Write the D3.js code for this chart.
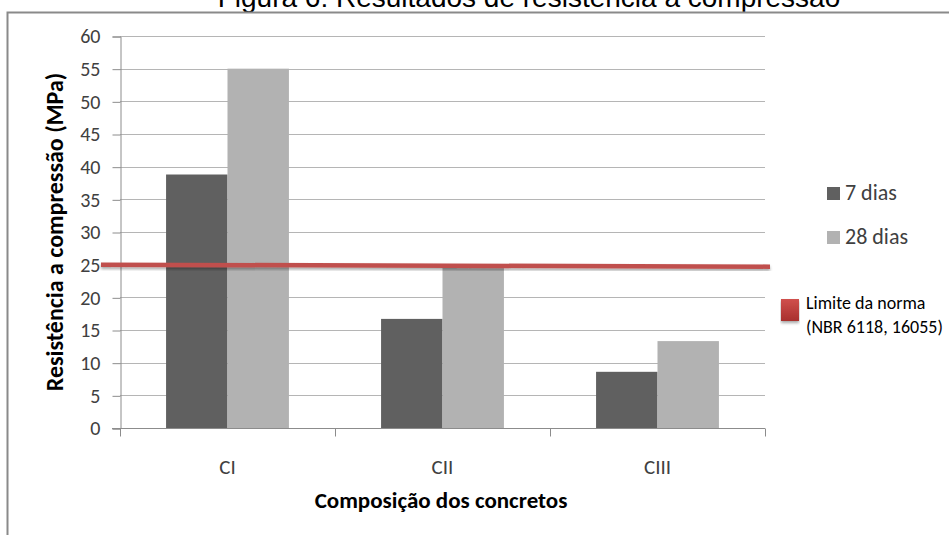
<!DOCTYPE html>
<html>
<head>
<meta charset="utf-8">
<script src="https://cdn.jsdelivr.net/npm/d3@7"></script>
<style>
  body { margin: 0; background: #fff; }
  svg { display: block; }
</style>
</head>
<body>
<div id="viz"></div>
<script>
var categories = ['CI', 'CII', 'CIII'];
var seriesNames = ['7 dias', '28 dias'];
var dias7 = [38.8, 16.7, 8.6];
var dias28 = [55, 24.8, 13.3];
var limite = 24.9;
var yTicks = [0, 5, 10, 15, 20, 25, 30, 35, 40, 45, 50, 55, 60];

var width = 949,
    height = 535,
    plotLeft = 120,
    plotRight = 765,
    plotTop = 36,
    plotBottom = 428,
    colors = ['#606060', '#b2b2b2'],
    font = 'Carlito, Lato, sans-serif';

var svg = d3.select('#viz').append('svg')
    .attr('width', width)
    .attr('height', height);

var defs = svg.append('defs');

// title (cut off at the top in the original)
svg.append('text')
    .attr('x', 529)
    .attr('y', 7)
    .attr('text-anchor', 'middle')
    .style('font-family', 'Liberation Sans, Arial, sans-serif')
    .style('font-size', '28px')
    .style('fill', '#000')
    .text('Figura 6: Resultados de resistência à compressão');

// outer frame
svg.append('path')
    .attr('d', 'M7.5,' + height + 'V12.5H' + width)
    .attr('fill', 'none')
    .attr('stroke', '#8a8a8a')
    .attr('stroke-width', 2);

var yScale = d3.scaleLinear()
    .domain([0, 60])
    .range([plotBottom, plotTop]);

var xScale = d3.scaleBand()
    .domain(categories)
    .range([plotLeft, plotRight]);

var xInner = d3.scaleBand()
    .domain(seriesNames)
    .range([0, xScale.bandwidth()])
    .paddingInner(0)
    .paddingOuter(0.75);

// gridlines
svg.append('g')
    .selectAll('line').data(yTicks.filter(function(d){ return d > 0; }))
    .enter().append('line')
    .attr('x1', plotLeft)
    .attr('x2', plotRight)
    .attr('y1', function(d){ return Math.round(yScale(d)) + 0.5; })
    .attr('y2', function(d){ return Math.round(yScale(d)) + 0.5; })
    .attr('stroke', '#b5b5b5')
    .attr('stroke-width', 1);

// y axis
var yAxis = svg.append('g')
    .attr('transform', 'translate(' + (plotLeft + 0.5) + ',0.5)')
    .call(d3.axisLeft(yScale).tickValues(yTicks).tickSize(8).tickPadding(12));
yAxis.select('.domain').attr('stroke', '#8c8c8c');
yAxis.selectAll('.tick line').attr('stroke', '#8c8c8c');
yAxis.selectAll('text')
    .style('font-family', font)
    .style('font-size', '20px')
    .style('fill', '#404040');

// bars
var groups = svg.append('g')
    .selectAll('g').data(categories)
    .enter().append('g')
    .attr('transform', function(d){ return 'translate(' + xScale(d) + ',0)'; });

groups.selectAll('rect')
    .data(function(d, i){
        return [{s: seriesNames[0], v: dias7[i], c: colors[0]},
                {s: seriesNames[1], v: dias28[i], c: colors[1]}];
    })
    .enter().append('rect')
    .attr('x', function(d){ return xInner(d.s); })
    .attr('width', xInner.bandwidth())
    .attr('y', function(d){ return yScale(d.v); })
    .attr('height', function(d){ return plotBottom - yScale(d.v); })
    .attr('fill', function(d){ return d.c; });

// x axis
var xAxis = svg.append('g')
    .attr('transform', 'translate(0,' + (plotBottom + 0.5) + ')');
xAxis.append('line')
    .attr('x1', plotLeft - 8)
    .attr('x2', plotRight)
    .attr('stroke', '#8c8c8c');
xAxis.selectAll('.tk')
    .data(categories.map(function(d){ return xScale(d); }).concat([plotRight]))
    .enter().append('line')
    .attr('x1', function(d){ return Math.round(d) + 0.5; })
    .attr('x2', function(d){ return Math.round(d) + 0.5; })
    .attr('y1', 0)
    .attr('y2', 8)
    .attr('stroke', '#8c8c8c');
xAxis.selectAll('text')
    .data(categories)
    .enter().append('text')
    .attr('x', function(d){ return xScale(d) + xScale.bandwidth() / 2; })
    .attr('y', 45)
    .attr('text-anchor', 'middle')
    .style('font-family', font)
    .style('font-size', '21px')
    .style('fill', '#404040')
    .text(function(d){ return d; });

// limit line (drawn shape, with a soft shadow)
var f = defs.append('filter').attr('id', 'sh').attr('x', '-5%').attr('y', '-200%')
    .attr('width', '110%').attr('height', '500%');
f.append('feDropShadow').attr('dx', 0).attr('dy', 2).attr('stdDeviation', 1.5)
    .attr('flood-color', '#000').attr('flood-opacity', 0.35);

svg.append('line')
    .attr('x1', 101)
    .attr('x2', 770)
    .attr('y1', yScale(limite + 0.1))
    .attr('y2', yScale(limite - 0.2))
    .attr('stroke', '#c0504d')
    .attr('stroke-width', 4.5)
    .attr('filter', 'url(#sh)');

// axis titles
svg.append('text')
    .attr('transform', 'translate(63,232) rotate(-90)')
    .attr('text-anchor', 'middle')
    .style('font-family', font)
    .style('font-size', '24px')
    .style('font-weight', 'bold')
    .style('fill', '#000')
    .text('Resistência a compressão (MPa)');

svg.append('text')
    .attr('x', 441)
    .attr('y', 508)
    .attr('text-anchor', 'middle')
    .style('font-family', font)
    .style('font-size', '23px')
    .style('font-weight', 'bold')
    .style('fill', '#000')
    .text('Composição dos concretos');

// legend
var legend = svg.append('g');
seriesNames.forEach(function(name, i){
    var ly = 187 + i * 44;
    legend.append('rect')
        .attr('x', 827).attr('y', ly)
        .attr('width', 13).attr('height', 13)
        .attr('fill', colors[i]);
    legend.append('text')
        .attr('x', 845).attr('y', ly + 13)
        .style('font-family', font)
        .style('font-size', '22px')
        .style('fill', '#404040')
        .text(name);
});

var lg = defs.append('linearGradient').attr('id', 'rg')
    .attr('x1', 0).attr('y1', 0).attr('x2', 0).attr('y2', 1);
lg.append('stop').attr('offset', 0).attr('stop-color', '#d0504d');
lg.append('stop').attr('offset', 1).attr('stop-color', '#a8302e');

legend.append('rect')
    .attr('x', 781).attr('y', 299)
    .attr('width', 18).attr('height', 22)
    .attr('fill', 'url(#rg)')
    .attr('filter', 'url(#sh)');
legend.append('text')
    .attr('x', 806).attr('y', 309)
    .style('font-family', font)
    .style('font-size', '18px')
    .style('fill', '#000')
    .text('Limite da norma');
legend.append('text')
    .attr('x', 806).attr('y', 333)
    .style('font-family', font)
    .style('font-size', '18px')
    .style('fill', '#000')
    .text('(NBR 6118, 16055)');
</script>
</body>
</html>
